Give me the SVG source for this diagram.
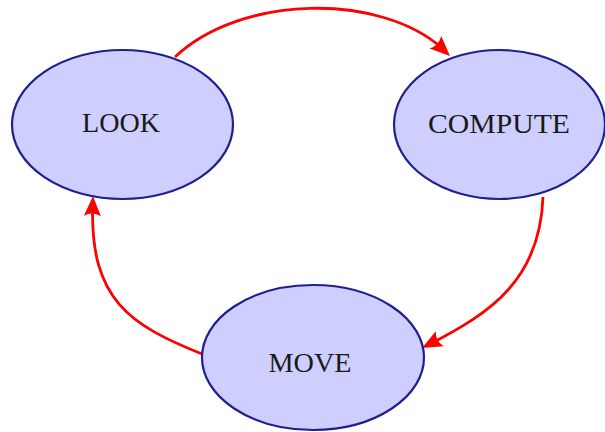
<svg xmlns="http://www.w3.org/2000/svg" width="605" height="432" viewBox="0 0 605 432">
  <style>
    .node ellipse { fill: #ceceff; stroke: #1f1f8f; stroke-width: 2.2; }
    .node text { font-family: "Liberation Serif", "DejaVu Serif", serif; font-size: 27px; fill: #1a1a1a; text-anchor: middle; }
    .edge { fill: none; stroke: #ff0000; stroke-width: 2.8; }
    .head { fill: #ff0000; }
  </style>
  <defs>
    <!-- arrowhead pointing along +x with its tip at the origin -->
    <path id="arrowhead" d="M0,0 L-20,-8.5 Q-15,0 -20,8.5 Z"/>
  </defs>

  <g id="connectors">
    <path class="edge" d="M175,57 C240,-5 380,-8 443,49"/>
    <use class="head" href="#arrowhead" transform="translate(450,56) rotate(43.2)"/>

    <path class="edge" d="M543,197 C540,280 490,313 431,343.5"/>
    <use class="head" href="#arrowhead" transform="translate(422,348) rotate(152.4)"/>

    <path class="edge" d="M202,354 C130,325 90,300 92.7,206"/>
    <use class="head" href="#arrowhead" transform="translate(93,196) rotate(-88.3)"/>
  </g>

  <g id="look" class="node">
    <ellipse cx="122.5" cy="124.5" rx="110.5" ry="74.5"/>
    <text x="121" y="132" textLength="78" lengthAdjust="spacingAndGlyphs">LOOK</text>
  </g>

  <g id="compute" class="node">
    <ellipse cx="499.5" cy="124.5" rx="105.5" ry="74.5"/>
    <text x="499" y="133" textLength="142" lengthAdjust="spacingAndGlyphs">COMPUTE</text>
  </g>

  <g id="move" class="node">
    <ellipse cx="313" cy="357.5" rx="111" ry="72.5"/>
    <text x="310" y="372" textLength="83" lengthAdjust="spacingAndGlyphs">MOVE</text>
  </g>
</svg>
